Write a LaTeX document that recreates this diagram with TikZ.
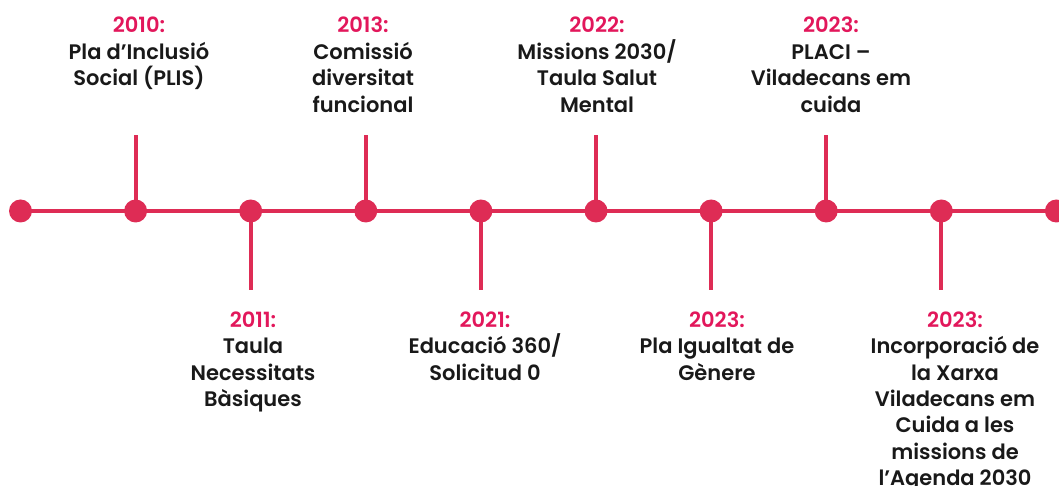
\documentclass[tikz,border=0pt]{standalone}
\usepackage{fontspec}
\setmainfont{Poppins}[UprightFont=* SemiBold]
\definecolor{tlred}{HTML}{DE2C55}
\definecolor{yearred}{HTML}{E2175B}
\newcommand{\yr}[1]{\textcolor{yearred}{#1}}
\begin{document}
\begin{tikzpicture}[x=1pt,y=1pt]
       \tikzstyle{dotnode}=[circle, fill=tlred, inner sep=0pt, minimum size=23pt]
       \tikzstyle{stem}=[draw=tlred, line width=4pt]
       \tikzstyle{uplabel}=[anchor=north, align=center, inner sep=0pt,
         text=black!90, font=\fontsize{21}{26.4}\selectfont]
       \tikzstyle{downlabel}=[uplabel]
       \useasboundingbox (0,0) rectangle (1059,486);
       % dots on the time line
       \node[dotnode] (t0) at (20.5,275) {};
       \node[dotnode] (t1) at (135.6,275) {};
       \node[dotnode] (t2) at (250.7,275) {};
       \node[dotnode] (t3) at (365.8,275) {};
       \node[dotnode] (t4) at (480.9,275) {};
       \node[dotnode] (t5) at (596.0,275) {};
       \node[dotnode] (t6) at (711.1,275) {};
       \node[dotnode] (t7) at (826.2,275) {};
       \node[dotnode] (t8) at (941.3,275) {};
       \node[dotnode] (t9) at (1056.4,275) {};
       \draw[stem] (t0.center) -- (t9.center);
       % stem ends
       \coordinate (s1) at (135.6,351);
       \coordinate (s2) at (250.7,196);
       \coordinate (s3) at (365.8,351);
       \coordinate (s4) at (480.9,196);
       \coordinate (s5) at (596.0,351);
       \coordinate (s6) at (711.1,196);
       \coordinate (s7) at (826.2,351);
       \coordinate (s8) at (941.3,196);
       \draw[stem] (t1.center) -- (s1);
       \draw[stem] (t2.center) -- (s2);
       \draw[stem] (t3.center) -- (s3);
       \draw[stem] (t4.center) -- (s4);
       \draw[stem] (t5.center) -- (s5);
       \draw[stem] (t6.center) -- (s6);
       \draw[stem] (t7.center) -- (s7);
       \draw[stem] (t8.center) -- (s8);
       % labels above
       \node[uplabel] (l1) at (139,469) {\yr{2010:}\\Pla d’Inclusió\\Social (PLIS)};
       \node[uplabel] (l3) at (363,469) {\yr{2013:}\\Comissió\\diversitat\\funcional};
       \node[uplabel] (l5) at (597,469) {\yr{2022:}\\Missions 2030/\\Taula Salut\\Mental};
       \node[uplabel] (l7) at (831,469) {\yr{2023:}\\PLACI –\\Viladecans em\\cuida};
       % labels below
       \node[downlabel] (l2) at (253,174.6) {\yr{2011:}\\Taula\\Necessitats\\Bàsiques};
       \node[downlabel] (l4) at (485,174.6) {\yr{2021:}\\Educació 360/\\Solicitud 0};
       \node[downlabel] (l6) at (717,174.6) {\yr{2023:}\\Pla Igualtat de\\Gènere};
       \node[downlabel] (l8) at (955,174.6) {\yr{2023:}\\Incorporació de\\la Xarxa\\Viladecans em\\Cuida a les\\missions de\\l’Agenda 2030};
\end{tikzpicture}
\end{document}
